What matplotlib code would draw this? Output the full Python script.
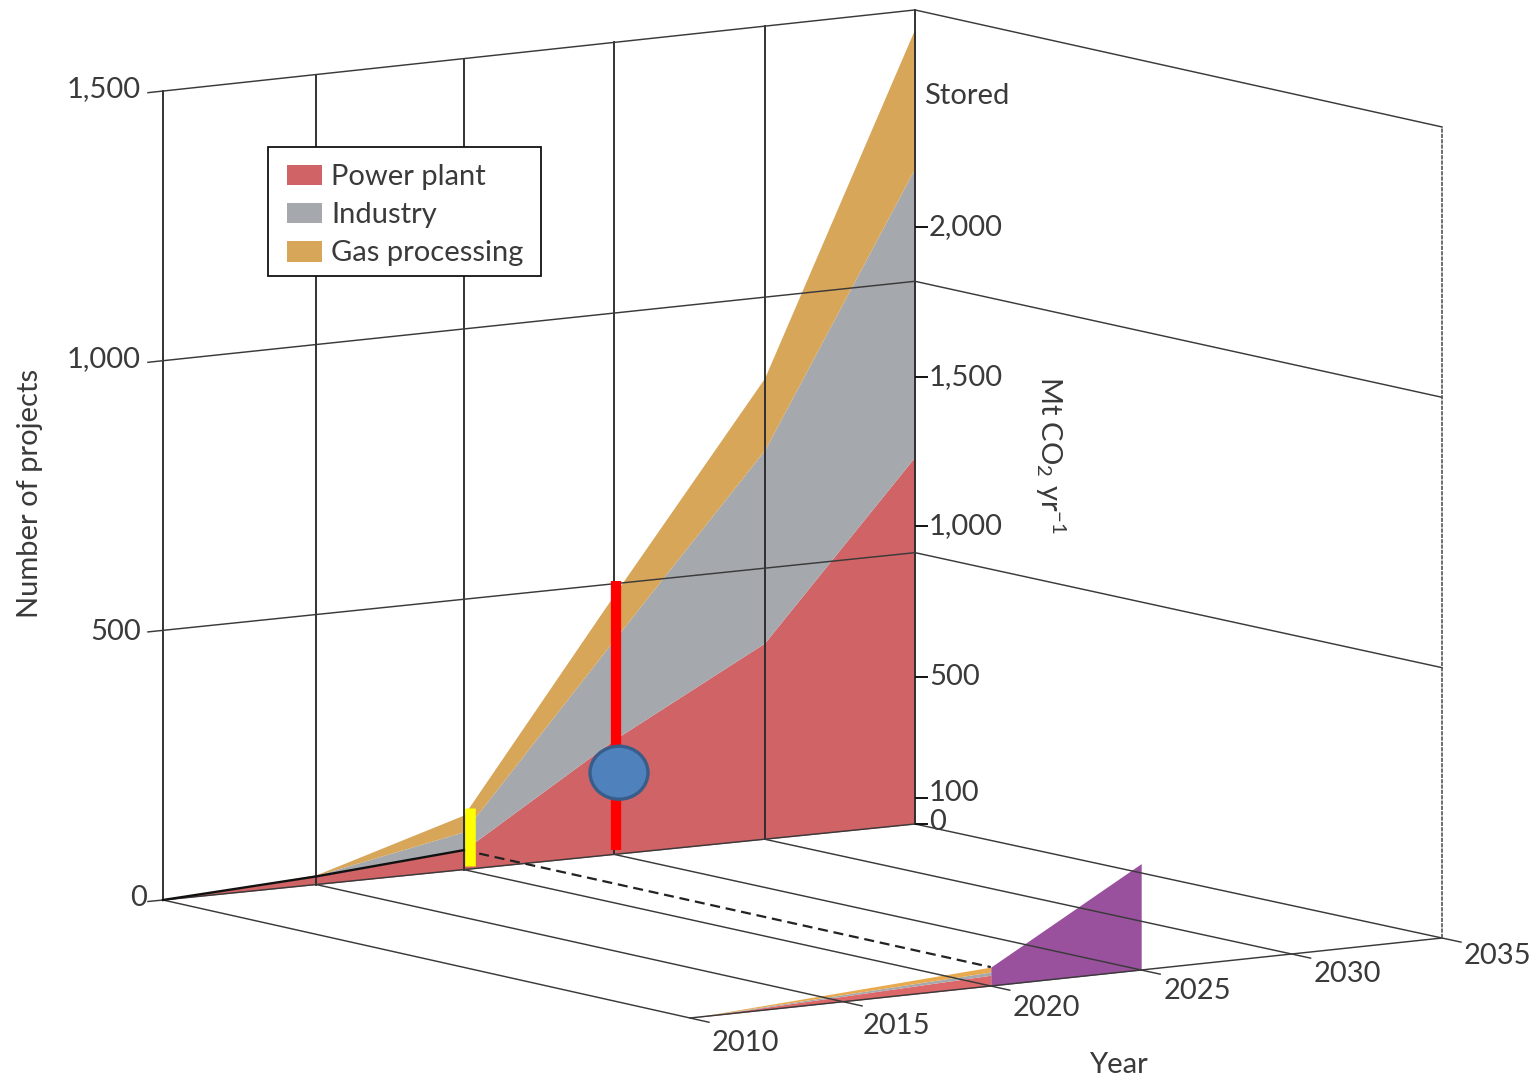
import numpy as np
import matplotlib
matplotlib.use("Agg")
import matplotlib.pyplot as plt
from matplotlib.patches import Ellipse, Patch, Rectangle
from matplotlib.transforms import Transform

# ---- data ----
years = [2010, 2015, 2020, 2025, 2030, 2035]
power_projects = [0, 15, 36, 212, 362, 677]
industry_projects = [0, 2, 34, 185, 356, 532]
gas_projects = [0, 1, 31, 83, 133, 257]

front_years = [2010, 2020]
front_power = [0, 20]
front_industry = [0, 6]
front_gas = [0, 9]
stored_years = [2020, 2025]
stored_values = [35, 197]

project_ticks = [0, 500, 1000, 1500]
project_labels = ["0", "500", "1,000", "1,500"]
stored_tick_heights = [0, 47, 271, 549, 824, 1100]
stored_labels = ["0", "100", "500", "1,000", "1,500", "2,000"]
year_labels = ["2010", "2015", "2020", "2025", "2030", "2035"]
series_names = ["Power plant", "Industry", "Gas processing"]

RED = "#cf6365"
GREY = "#a5a9ae"
GOLD = "#d7a659"
PURPLE = "#9a519d"
TEXT = "#3a3a3a"
LINE = "#2a2a2e"
THIN = "#3a3a3a"

plt.rcParams["font.family"] = ["Lato", "DejaVu Sans"]
plt.rcParams["mathtext.default"] = "regular"
FS = 21

fig = plt.figure(figsize=(15.39, 10.77), dpi=100, facecolor="white")
ax = fig.add_axes([0, 0, 1, 1])
ax.set_xlim(0, 1539)
ax.set_ylim(1077, 0)
ax.axis("off")
ax.autoscale(False)


def box(year, value, depth):
    """Slightly perspective projection of the 3-D box into picture pixels."""
    t = (np.asarray(year, float) - 2010.0) / 25.0
    x = 163.0 + 752.0 * t + 527.0 * depth
    y = (900.0 - 76.0 * t + 118.0 * depth - 4.0 * t * depth
         - np.asarray(value, float) * (0.5393 + 0.0034 * t - 0.002 * t * depth))
    return x, y


class Plane(Transform):
    input_dims = 2
    output_dims = 2
    has_inverse = False

    def __init__(self, func):
        super().__init__()
        self.func = func

    def transform_non_affine(self, values):
        values = np.asarray(values, float)
        x, y = self.func(values[:, 0], values[:, 1])
        return np.column_stack([x, y])


def wall(depth=0.0):
    """(year, projects) on a plane at a given depth."""
    return Plane(lambda a, b: box(a, b, depth)) + ax.transData


def floor():
    """(year, depth) on the floor."""
    return Plane(lambda a, b: box(a, 0.0, b)) + ax.transData


def side(year):
    """(depth, projects) on a plane at a given year."""
    return Plane(lambda a, b: box(year, b, a)) + ax.transData


# stacked areas on the back plane
yr = np.array([2010, 2015.09, 2020, 2025, 2030, 2035], float)
p = np.array(power_projects, float)
i = p + np.array(industry_projects, float)
g = i + np.array(gas_projects, float)
w = wall()
ax.fill_between(yr, 0, p, color=RED, lw=0, transform=w, zorder=2)
ax.fill_between(yr, p, i, color=GREY, lw=0, transform=w, zorder=2)
ax.fill_between(yr, i, g, color=GOLD, lw=0, transform=w, zorder=2)

# stacked strip and stored wedge on the front plane
f = wall(1.0)
fy = np.array(front_years, float)
fp = np.array(front_power, float)
fi = fp + np.array(front_industry, float)
fg = fi + np.array(front_gas, float)
ax.fill_between(fy, 0, fp, color="#dc686a", lw=0, transform=f, zorder=2)
ax.fill_between(fy, fp, fi, color=GREY, lw=0, transform=f, zorder=2)
ax.fill_between(fy, fi, fg, color="#e8a94f", lw=0, transform=f, zorder=2)
ax.fill_between(stored_years, 0, stored_values, color=PURPLE, lw=0, transform=f, zorder=2)

# box lines
lw_v = 1.35
lw_t = 1.05
for y in yr:
    ax.plot([y, y], [0, 1500], color=LINE, lw=lw_v, transform=w, zorder=3)
    ax.plot([y, y], [0, 1.036], color=THIN, lw=lw_t, transform=floor(), zorder=3)
for v in project_ticks:
    ax.plot([2010, 2035], [v, v], color=THIN, lw=lw_t, transform=w, zorder=3)
    ax.plot([2009.5, 2010], [v, v], color=THIN, lw=lw_t, transform=w, zorder=3)
    if v > 0:
        ax.plot([0, 1], [v, v], color=THIN, lw=lw_t, transform=side(2035), zorder=3)
ax.plot([2010, 2035], [0, 0], color=THIN, lw=lw_t, transform=f, zorder=3)
ax.plot([2035, 2035], [0, 1500], color="#555555", lw=1.2, ls=(0, (2.5, 0.7)), transform=f, zorder=3)

# black current-level line and dashed link
ax.plot(yr[:3], power_projects[:3], color="#111111", lw=1.7, transform=w, zorder=4)
ax.plot([0, 1], [power_projects[2], sum(v[-1] for v in (front_power, front_industry, front_gas))],
        color="#222222", lw=1.6, ls=(0, (4.5, 2.6)), transform=side(2020), zorder=4)

# right-hand axis ticks and labels
for h, lab in zip(stored_tick_heights, stored_labels):
    px, py = box(2035, h, 0.0)
    ax.plot([px, px + 13], [py, py], color="#111111", lw=1.4, zorder=4, solid_capstyle="butt")
    dy = -2 if lab == "0" else (-5 if lab == "100" else 0)
    ax.text(px + 14, py + dy, lab, color=TEXT, fontsize=FS, ha="left", va="center", zorder=5)

# left-hand labels
for v, lab, dy in zip(project_ticks, project_labels, (-2.5, 1.5, -1.5, -2.5)):
    px, py = box(2010, v, 0.0)
    ax.text(px - (16 if v == 0 else 22), py + dy, lab, color=TEXT, fontsize=FS,
            ha="right", va="center", zorder=5)

# year labels
for k, (y, lab) in enumerate(zip(years, year_labels)):
    px, py = box(y, 0.0, 1.036)
    ax.text(px + 3, py + 21 - 1.4 * k, lab, color=TEXT, fontsize=FS, ha="left", va="center", zorder=5)

# highlight marks
ax.plot([2020.19, 2020.19], [5.5, 113], color="#ffff00", lw=7.6,
        solid_capstyle="butt", transform=w, zorder=6)
ax.plot([2025.06, 2025.06], [8, 505], color="#ff0000", lw=7.4,
        solid_capstyle="butt", transform=w, zorder=6)
cx, cy = box(2025.16, 150, 0.0)
ax.add_patch(Ellipse((cx, cy), 58, 53, facecolor="#4f81bd", edgecolor="#385d8a", lw=2.4, zorder=7))

# axis titles
ax.text(924, 96, "Stored", color=TEXT, fontsize=FS, ha="left", va="center", zorder=5)
ax.text(1118, 1065, "Year", color=TEXT, fontsize=FS, ha="center", va="center", zorder=5)
ax.text(30, 493, "Number of projects", color=TEXT, fontsize=FS, rotation=90,
        ha="center", va="center", zorder=5)
ax.text(1050, 455, "Mt CO$_2$ yr$^{-1}$", color=TEXT, fontsize=FS, rotation=-90,
        ha="center", va="center", zorder=5)

# legend: separate frame so its box can match the reference exactly
ax.add_patch(Rectangle((268, 147), 273, 129, facecolor="white", edgecolor="#111111", lw=1.3, zorder=8))
handles = [Patch(facecolor=c, edgecolor="none") for c in (RED, GREY, GOLD)]
leg = ax.legend(handles, series_names, loc="upper left", bbox_to_anchor=(287, 164),
                bbox_transform=ax.transData, borderaxespad=0, frameon=False,
                fontsize=FS, labelcolor=TEXT,
                handlelength=1.2, handleheight=0.7, handletextpad=0.31,
                labelspacing=0.42, borderpad=0)
leg.set_zorder(9)

fig.savefig("out.png", dpi=100, facecolor="white")
